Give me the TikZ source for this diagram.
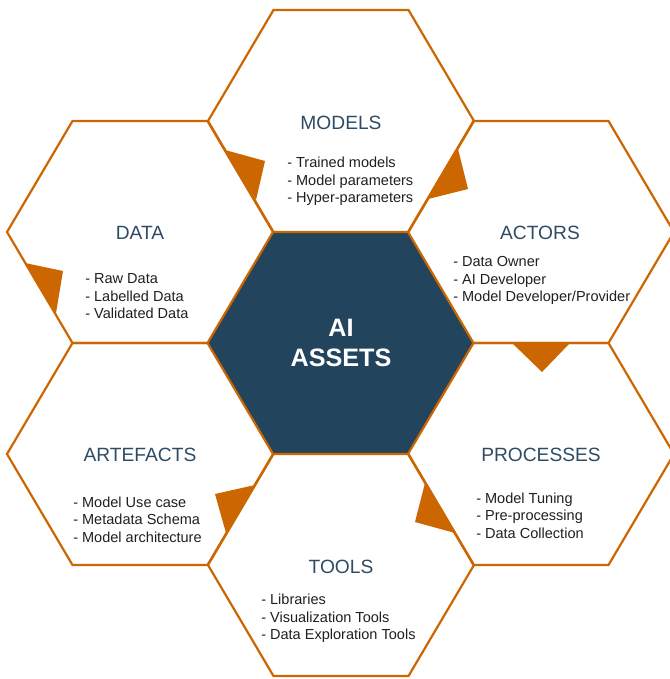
\documentclass[tikz,border=0pt]{standalone}
\usepackage{fontspec}
\setmainfont{Liberation Sans}
\definecolor{hexorange}{HTML}{CC6600}
\definecolor{hexblue}{HTML}{23445D}
\definecolor{titleblue}{HTML}{2F4B63}
\definecolor{listgray}{HTML}{1F1F1F}
\begin{document}
\begin{tikzpicture}[x=0.75pt,y=-0.75pt,
  hexline/.style={draw=hexorange,line width=1.65pt,line join=miter},
  marker/.style={fill=hexorange,draw=none},
  hextitle/.style={text=titleblue,font=\fontsize{14.4pt}{17pt}\selectfont,inner sep=0pt},
  hexlist/.style={text=listgray,font=\fontsize{10.9pt}{13.1pt}\selectfont,align=left,anchor=west,inner sep=0pt},
  centertext/.style={text=white,font=\bfseries\fontsize{18.9pt}{22.5pt}\selectfont,align=center,inner sep=0pt}]
\useasboundingbox (0,0) rectangle (669,679);
% hexagon centres
\coordinate (cC) at (341,343);
\coordinate (cM) at (341,121);
\coordinate (cD) at (140,232);
\coordinate (cA) at (541,232);
\coordinate (cR) at (140,454);
\coordinate (cP) at (541,454);
\coordinate (cT) at (341,565);
% central filled hexagon
\fill[hexblue] ([shift={(-133,0)}]cC) -- ([shift={(-67.5,-111)}]cC) -- ([shift={(67.5,-111)}]cC) -- ([shift={(133,0)}]cC) -- ([shift={(67.5,111)}]cC) -- ([shift={(-67.5,111)}]cC) -- cycle;
% outer hexagons
\foreach \c in {cM,cD,cA,cR,cP,cT}{
  \draw[hexline] ([shift={(-133,0)}]\c) -- ([shift={(-67.5,-111)}]\c) -- ([shift={(67.5,-111)}]\c) -- ([shift={(133,0)}]\c) -- ([shift={(67.5,111)}]\c) -- ([shift={(-67.5,111)}]\c) -- cycle;
}
% triangular markers
\fill[marker] (225,150) -- (265,161) -- (256,200) -- cycle;
\fill[marker] (458,149) -- (468,189) -- (428,199) -- cycle;
\fill[marker] (25,263) -- (63,271) -- (56,313) -- cycle;
\fill[marker] (512,343) -- (570,343) -- (542,372) -- cycle;
\fill[marker] (255,485) -- (215,494) -- (226,533) -- cycle;
\fill[marker] (425,483) -- (415,522) -- (455,533) -- cycle;
% texts
\node[centertext] (ai) at (341,343) {AI\\ASSETS};
\node[hextitle] (tM) at (341,122.5) {MODELS};
\node[hexlist] (lM) at (287,181.5) {- Trained models\\- Model parameters\\- Hyper-parameters};
\node[hextitle] (tD) at (140,233) {DATA};
\node[hexlist] (lD) at (85,296.5) {- Raw Data\\- Labelled Data\\- Validated Data};
\node[hextitle] (tA) at (540,233) {ACTORS};
\node[hexlist] (lA) at (453,280.5) {- Data Owner\\- AI Developer\\- Model Developer/Provider};
\node[hextitle] (tR) at (140,455) {ARTEFACTS};
\node[hexlist] (lR) at (73,519.5) {- Model Use case\\- Metadata Schema\\- Model architecture};
\node[hextitle] (tP) at (541,455) {PROCESSES};
\node[hexlist] (lP) at (476,515.5) {- Model Tuning\\- Pre-processing\\- Data Collection};
\node[hextitle] (tT) at (341,567) {TOOLS};
\node[hexlist] (lT) at (261,618.5) {- Libraries\\- Visualization Tools\\- Data Exploration Tools};
\end{tikzpicture}
\end{document}
